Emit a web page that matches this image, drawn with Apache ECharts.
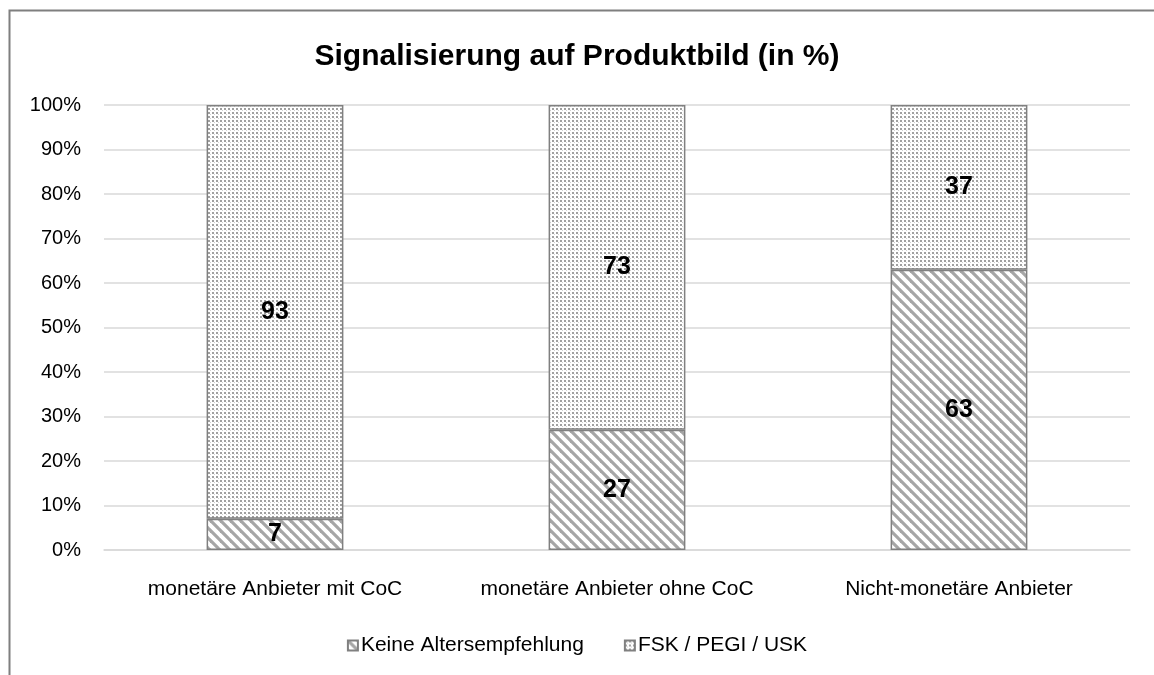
<!DOCTYPE html>
<html><head><meta charset="utf-8">
<script src="https://cdn.jsdelivr.net/npm/echarts@6/dist/echarts.min.js"></script>
<style>html,body{margin:0;padding:0;background:#fff}#c{width:1154px;height:675px}</style>
</head><body><div id="c"></div>
<script>
const categories = ['monetäre Anbieter mit CoC', 'monetäre Anbieter ohne CoC', 'Nicht-monetäre Anbieter'];
const keineAlter = [7, 27, 63];
const fskPegiUsk = [93, 73, 37];
const seriesNames = ['Keine Altersempfehlung', 'FSK / PEGI / USK'];

function stripePattern() {
  const c = document.createElement('canvas');
  c.width = 10; c.height = 10;
  const g = c.getContext('2d');
  g.fillStyle = '#fff'; g.fillRect(0, 0, 10, 10);
  g.strokeStyle = '#a6a6a6'; g.lineWidth = 3.2;
  for (let o = -10; o <= 10; o += 10) {
    g.beginPath(); g.moveTo(o - 2, -2); g.lineTo(o + 12, 12); g.stroke();
  }
  return c;
}
function dotPattern() {
  const c = document.createElement('canvas');
  c.width = 4; c.height = 4;
  const g = c.getContext('2d');
  g.fillStyle = '#fff'; g.fillRect(0, 0, 4, 4);
  g.fillStyle = '#a0a0a0'; g.fillRect(0, 0, 2, 2);
  g.fillStyle = '#d0d0d0'; g.fillRect(2, 2, 1, 1);
  return c;
}
const stripe = { image: stripePattern(), repeat: 'repeat' };
const dots = { image: dotPattern(), repeat: 'repeat' };

const font = 'Liberation Sans, Arial, sans-serif';
const chart = echarts.init(document.getElementById('c'), null, { renderer: 'canvas' });
const labelCfg = { show: true, position: 'inside', color: '#000', fontWeight: 'bold', fontSize: 25, fontFamily: font };
chart.setOption({
  animation: false,
  backgroundColor: '#fff',
  graphic: [{ type: 'rect', left: 7, top: 8, shape: { width: 1200, height: 700 }, style: { fill: 'none', stroke: '#7f7f7f', lineWidth: 2 }, silent: true }],
  title: { text: 'Signalisierung auf Produktbild (in %)', left: 'center', top: 37, textStyle: { fontFamily: font, fontWeight: 'bold', fontSize: 30, color: '#000' } },
  legend: { bottom: 14, left: 'center', itemWidth: 10, itemHeight: 10, itemGap: 40, icon: 'rect',
    textStyle: { fontFamily: font, fontSize: 21, color: '#000', padding: [0, 0, 0, -2] },
    data: seriesNames },
  grid: { left: 104, right: 24, top: 105, bottom: 125, containLabel: false },
  xAxis: { type: 'category', data: categories,
    axisLine: { show: true, lineStyle: { color: '#d9d9d9', width: 1.5 } },
    axisTick: { show: false },
    axisLabel: { fontFamily: font, fontSize: 21, color: '#000', margin: 29, interval: 0, hideOverlap: false } },
  yAxis: { type: 'value', min: 0, max: 100, interval: 10,
    axisLabel: { fontFamily: font, fontSize: 20, color: '#000', margin: 23, formatter: '{value}%' },
    splitLine: { lineStyle: { color: '#d9d9d9', width: 1.5 } },
    axisLine: { show: false }, axisTick: { show: false } },
  series: [
    { name: seriesNames[0], type: 'bar', stack: 'a', data: keineAlter, barWidth: '40%',
      itemStyle: { color: stripe, borderColor: '#808080', borderWidth: 1.5 }, label: labelCfg },
    { name: seriesNames[1], type: 'bar', stack: 'a', data: fskPegiUsk, barWidth: '40%',
      itemStyle: { color: dots, borderColor: '#808080', borderWidth: 1.5 }, label: labelCfg }
  ]
});
</script></body></html>
